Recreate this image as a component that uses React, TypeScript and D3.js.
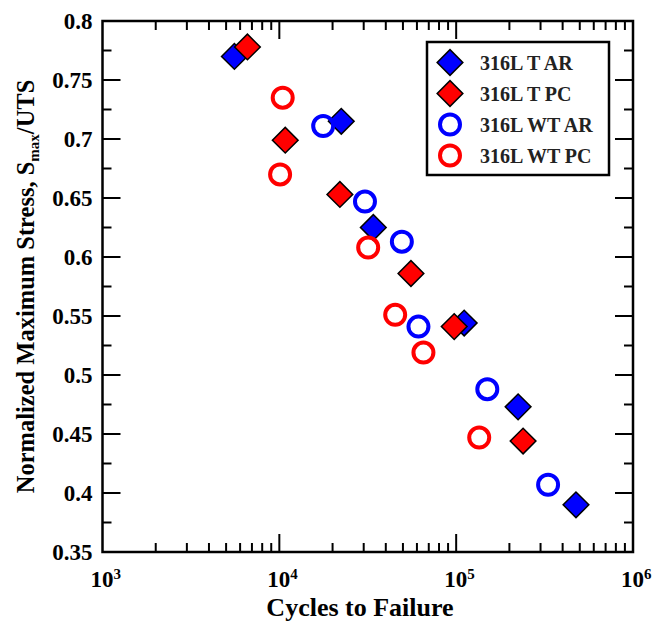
import { useEffect, useRef } from 'react';
import * as d3 from 'd3';

// cycles to failure / normalized max stress
const tArCycles = [5570, 22400, 34000, 111000, 224000, 476000];
const tArStress = [0.770, 0.715, 0.625, 0.544, 0.473, 0.390];

const tPcCycles = [6600, 10800, 22000, 55500, 97500, 239000];
const tPcStress = [0.778, 0.699, 0.653, 0.586, 0.541, 0.444];

const wtArCycles = [17700, 30500, 49300, 61200, 150000, 331000];
const wtArStress = [0.711, 0.647, 0.613, 0.541, 0.488, 0.407];

const wtPcCycles = [10450, 10100, 31800, 45200, 65300, 135000];
const wtPcStress = [0.735, 0.670, 0.608, 0.551, 0.519, 0.447];

const yTicks = [0.35, 0.4, 0.45, 0.5, 0.55, 0.6, 0.65, 0.7, 0.75, 0.8];
const xDecades = [3, 4, 5, 6];

const seriesNames = ['316L T AR', '316L T PC', '316L WT AR', '316L WT PC'];

const FONT = 'Liberation Serif, Times New Roman, serif';

const App = () => {
  const svgRef = useRef(null);

  useEffect(() => {
    const width = 658;
    const height = 621;
    const margin = { top: 21, right: 25, bottom: 69, left: 102.5 };

    const svg = d3.select(svgRef.current);
    svg.selectAll('*').remove();

    const x = d3.scaleLog().domain([1e3, 1e6]).range([margin.left, width - margin.right]);
    const y = d3.scaleLinear().domain([0.35, 0.8]).range([height - margin.bottom, margin.top]);

    const [x0, x1] = x.range();
    const [y0, y1] = y.range();

    // frame
    svg.append('rect')
      .attr('x', x0).attr('y', y1)
      .attr('width', x1 - x0).attr('height', y0 - y1)
      .attr('fill', 'none').attr('stroke', '#000').attr('stroke-width', 2.5);

    // x ticks (log, inward, bottom + top)
    const xMinor = [];
    for (let d = 3; d < 6; d++) {
      for (let k = 2; k <= 9; k++) xMinor.push(k * Math.pow(10, d));
    }
    const ticks = svg.append('g').attr('stroke', '#000').attr('stroke-width', 2);
    xMinor.forEach(v => {
      ticks.append('line').attr('x1', x(v)).attr('x2', x(v)).attr('y1', y0).attr('y2', y0 - 9);
      ticks.append('line').attr('x1', x(v)).attr('x2', x(v)).attr('y1', y1).attr('y2', y1 + 9);
    });
    xDecades.slice(1, 3).forEach(d => {
      const v = Math.pow(10, d);
      ticks.append('line').attr('x1', x(v)).attr('x2', x(v)).attr('y1', y0).attr('y2', y0 - 18);
      ticks.append('line').attr('x1', x(v)).attr('x2', x(v)).attr('y1', y1).attr('y2', y1 + 18);
    });

    // y ticks
    yTicks.forEach((v, i) => {
      ticks.append('line').attr('x1', x0).attr('x2', x0 + 18).attr('y1', y(v)).attr('y2', y(v));
      ticks.append('line').attr('x1', x1).attr('x2', x1 - 18).attr('y1', y(v)).attr('y2', y(v));
      if (i < yTicks.length - 1) {
        const m = v + 0.025;
        ticks.append('line').attr('x1', x0).attr('x2', x0 + 9).attr('y1', y(m)).attr('y2', y(m));
        ticks.append('line').attr('x1', x1).attr('x2', x1 - 9).attr('y1', y(m)).attr('y2', y(m));
      }
    });

    // y tick labels
    svg.append('g').selectAll('text')
      .data(yTicks)
      .enter()
      .append('text')
      .attr('x', x0 - 10)
      .attr('y', d => y(d))
      .attr('dy', '0.33em')
      .attr('text-anchor', 'end')
      .attr('font-family', FONT).attr('font-weight', 'bold').attr('font-size', 23)
      .text(d => String(d));

    // x tick labels 10^n
    xDecades.forEach(d => {
      const t = svg.append('text')
        .attr('x', x(Math.pow(10, d)) - 12)
        .attr('y', 587)
        .attr('font-family', FONT).attr('font-weight', 'bold').attr('font-size', 23);
      t.append('tspan').text('10');
      t.append('tspan').attr('dy', -8).attr('font-size', 15).text(String(d));
    });

    // axis titles
    svg.append('text')
      .attr('x', 360)
      .attr('y', 616)
      .attr('text-anchor', 'middle')
      .attr('font-family', FONT).attr('font-weight', 'bold').attr('font-size', 26)
      .text('Cycles to Failure');

    const yl = svg.append('text')
      .attr('transform', `translate(34,${(y0 + y1) / 2}) rotate(-90)`)
      .attr('text-anchor', 'middle')
      .attr('font-family', FONT).attr('font-weight', 'bold').attr('font-size', 24.5);
    yl.append('tspan').text('Normalized Maximum Stress, S');
    yl.append('tspan').attr('dy', 5).attr('font-size', 15).text('max');
    yl.append('tspan').attr('dy', -5).text('/UTS');

    const diamond = d3.symbol().type(d3.symbolSquare).size(330);

    const drawDiamonds = (cyc, str, fill) => {
      svg.append('g').selectAll('path')
        .data(cyc.map((c, i) => [c, str[i]]))
        .enter()
        .append('path')
        .attr('d', diamond)
        .attr('transform', d => `translate(${x(d[0])},${y(d[1])}) rotate(45)`)
        .attr('fill', fill).attr('stroke', '#000').attr('stroke-width', 1.5);
    };
    const drawCircles = (cyc, str, color) => {
      svg.append('g').selectAll('circle')
        .data(cyc.map((c, i) => [c, str[i]]))
        .enter()
        .append('circle')
        .attr('cx', d => x(d[0])).attr('cy', d => y(d[1])).attr('r', 10)
        .attr('fill', 'none').attr('stroke', color).attr('stroke-width', 4);
    };

    drawDiamonds(tArCycles, tArStress, '#0000ff');
    drawDiamonds(tPcCycles, tPcStress, '#ff0000');
    drawCircles(wtArCycles, wtArStress, '#0000ff');
    drawCircles(wtPcCycles, wtPcStress, '#ff0000');

    // legend
    const lg = svg.append('g');
    lg.append('rect')
      .attr('x', 427).attr('y', 42).attr('width', 182).attr('height', 133)
      .attr('fill', '#fff').attr('stroke', '#000').attr('stroke-width', 2.5);
    seriesNames.forEach((name, i) => {
      const cy = 62.5 + i * 31;
      if (i < 2) {
        lg.append('path').attr('d', diamond)
          .attr('transform', `translate(450,${cy}) rotate(45)`)
          .attr('fill', i === 0 ? '#0000ff' : '#ff0000').attr('stroke', '#000').attr('stroke-width', 1.5);
      } else {
        lg.append('circle').attr('cx', 450).attr('cy', cy).attr('r', 10)
          .attr('fill', 'none').attr('stroke', i === 2 ? '#0000ff' : '#ff0000').attr('stroke-width', 4);
      }
      lg.append('text')
        .attr('x', 480).attr('y', cy).attr('dy', '0.35em')
        .attr('font-family', FONT).attr('font-weight', 'bold').attr('font-size', 20)
        .attr('fill', '#222')
        .text(name);
    });
  }, []);

  return (
    <svg ref={svgRef} width={658} height={621}
      style={{ position: 'absolute', left: 0, top: 0, background: '#fff' }} />
  );
};

export default App;
